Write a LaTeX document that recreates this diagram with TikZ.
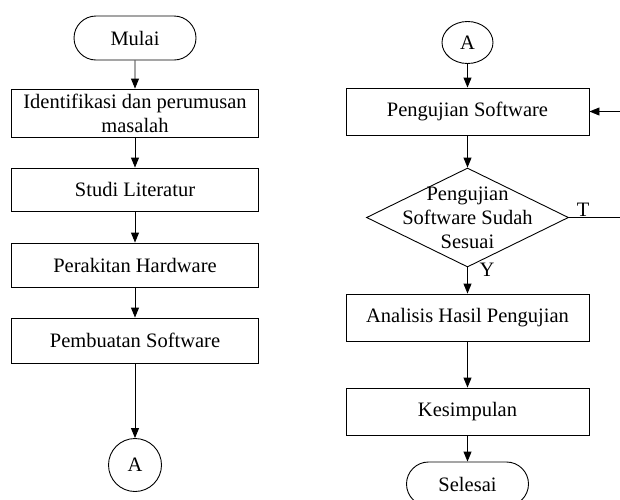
\documentclass[tikz,border=0pt]{standalone}
\usepackage{fontspec}
\setmainfont{Liberation Serif}
\usetikzlibrary{arrows.meta,shapes.geometric,shapes.misc}
\begin{document}
\begin{tikzpicture}[x=1pt,y=-1pt,
  font=\fontsize{20.5}{24}\selectfont,
  base/.style={draw, line width=0.9pt, inner sep=0pt, align=center},
  proc/.style={base, rectangle, minimum width=247pt, minimum height=46pt},
  term/.style={base, rounded rectangle, minimum width=122pt, minimum height=44pt},
  conn/.style={base, circle, minimum size=53pt},
  connr/.style={base, ellipse, minimum width=51pt, minimum height=42pt},
  decision/.style={base, diamond, minimum width=202pt, minimum height=99pt},
  flow/.style={line width=0.9pt, -{Triangle[length=10pt,width=8pt]}},
  link/.style={line width=0.9pt},
  tag/.style={inner sep=0pt}
]
\useasboundingbox (0,0) rectangle (620,499);
\clip (0,0) rectangle (620,499);

% left column
\node[term] (mulai) at (135,38) {Mulai};
\node[proc, minimum height=48pt] (ident) at (135,113) {Identifikasi dan perumusan\\masalah};
\node[proc, minimum height=43pt] (studi) at (135,189.5) {Studi Literatur};
\node[proc, minimum height=44pt] (rakit) at (135,265) {Perakitan Hardware};
\node[proc, minimum height=45pt] (buat) at (135,340.5) {Pembuatan Software};
\node[conn] (offA) at (135,465) {A};

\draw[flow] (mulai) -- (ident);
\draw[flow] (ident) -- (studi);
\draw[flow] (studi) -- (rakit);
\draw[flow] (rakit) -- (buat);
\draw[flow] (buat) -- (offA);

% right column
\node[connr] (onA) at (467.5,42.5) {A};
\node[proc, minimum width=243pt, minimum height=47pt] (uji) at (467.5,111.5) {Pengujian Software};
\node[decision] (cek) at (467.5,217.5) {};
\node[align=center, inner sep=0pt] (cektext) at (cek.center) {Pengujian\\Software Sudah\\Sesuai};
\node[proc, minimum width=243pt, minimum height=47pt] (analisis) at (467.5,317.5) {Analisis Hasil Pengujian};
\node[proc, minimum width=243pt, minimum height=47pt] (simpul) at (467.5,411.5) {Kesimpulan};
\node[term] (selesai) at (467.5,484) {Selesai};

\draw[flow] (onA) -- (uji);
\draw[flow] (uji) -- (cek);
\draw[flow] (cek) -- (analisis);
\draw[flow] (analisis) -- (simpul);
\draw[flow] (simpul) -- (selesai);

% loop back when the test fails
\coordinate (loopA) at (640,217.5);
\coordinate (loopB) at (640,111.5);
\draw[flow] (cek.east) -- (loopA) -- (loopB) -- (uji.east);

\node[tag] (lblT) at (583,210) {T};
\node[tag] (lblY) at (487,270) {Y};
\end{tikzpicture}
\end{document}
